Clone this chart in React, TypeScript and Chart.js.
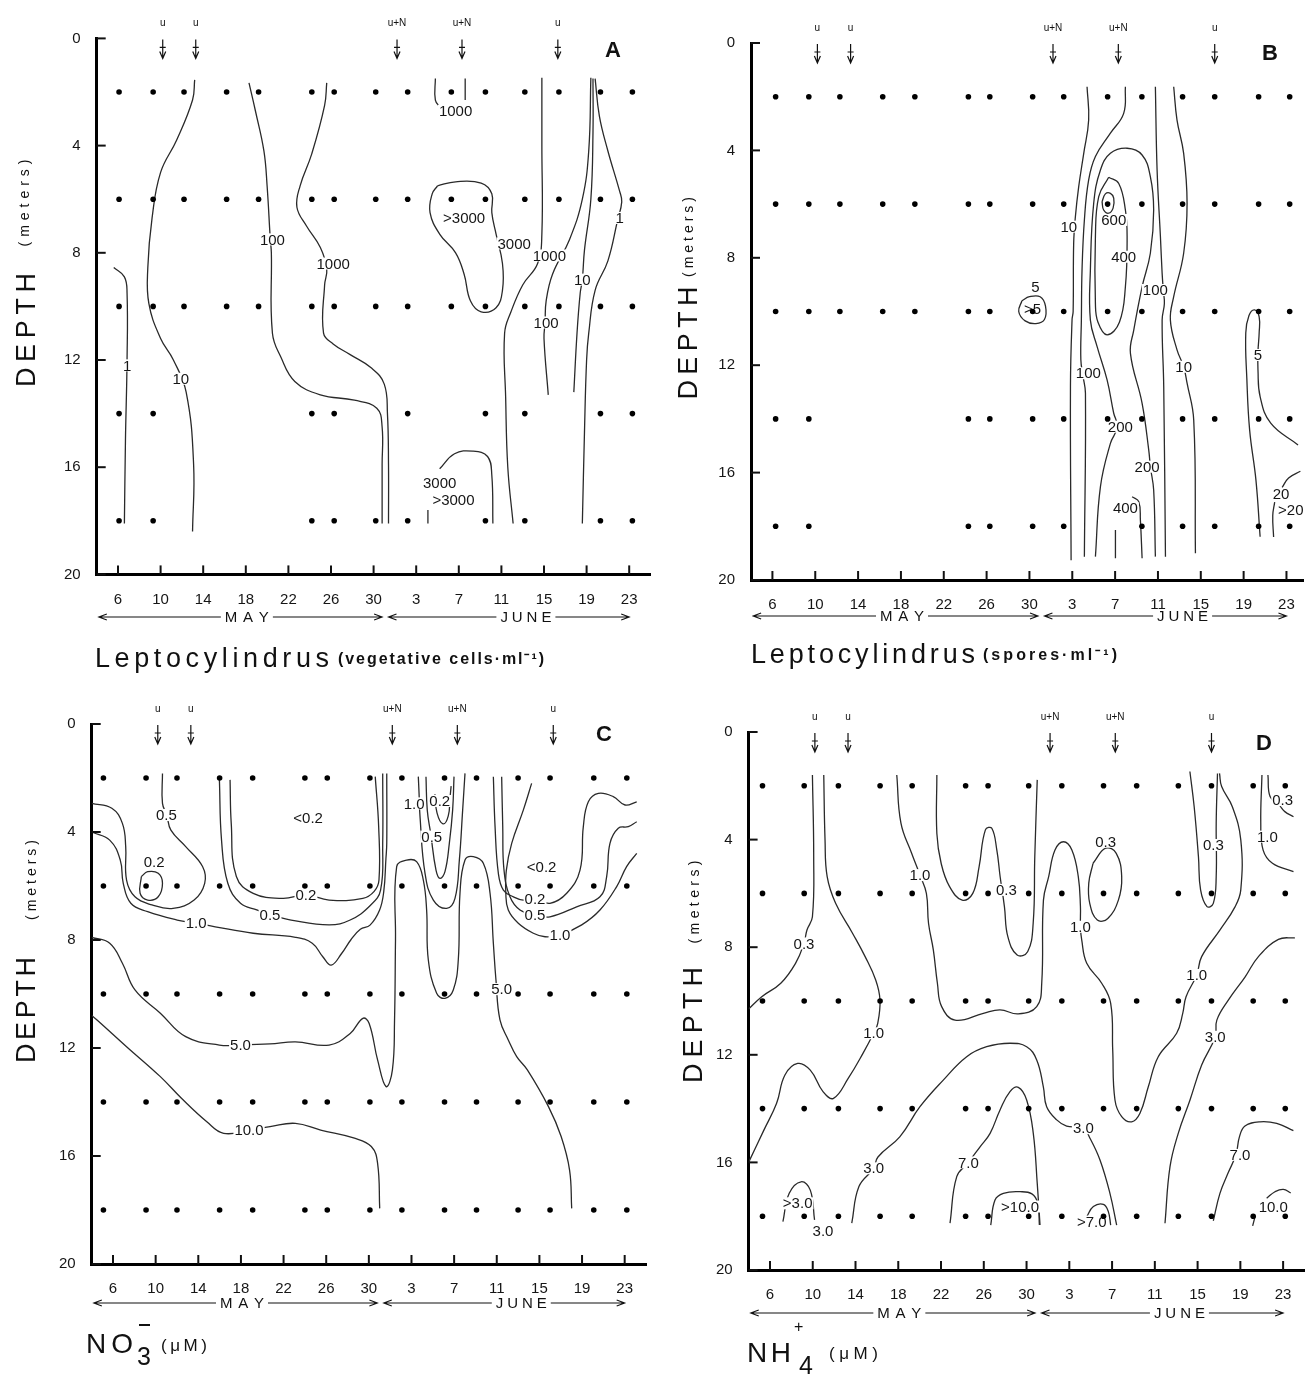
import React, { useEffect, useRef } from 'react';
import { Chart, registerables } from 'chart.js';
Chart.register(...registerables);

type Pt = [number, number];
type Lbl = [number, number, string];

// ---------- shared axis data ----------
const X_TICKS = [6, 10, 14, 18, 22, 26, 30, 34, 38, 42, 46, 50, 54];
const X_TICK_LABELS = ['6', '10', '14', '18', '22', '26', '30', '3', '7', '11', '15', '19', '23'];
const Y_TICKS = [0, 4, 8, 12, 16, 20];
const SAMPLE_DEPTHS = [2, 6, 10, 14, 18];
const EVENT_DAYS = [10.2, 13.3, 32.2, 38.3, 47.3];
const EVENT_LABELS = ['u', 'u', 'u+N', 'u+N', 'u'];
const MONTH_SPANS: [number, number, number, string][] = [
  [4.2, 30.8, 18.1, 'MAY'],
  [31.4, 54.0, 44.3, 'JUNE'],
];
const ALL15 = [0, 1, 2, 3, 4, 5, 6, 7, 8, 9, 10, 11, 12, 13, 14];

// ---------- Panel A: Leptocylindrus vegetative cells ----------
const A_DATES = [6.1, 9.3, 12.2, 16.2, 19.2, 24.2, 26.3, 30.2, 33.2, 37.3, 40.5, 44.2, 47.4, 51.3, 54.3];
const A_ROWS = [ALL15, ALL15, ALL15, [0, 1, 5, 6, 8, 10, 11, 13, 14], [0, 1, 5, 6, 7, 8, 10, 11, 13, 14]];
const A_CONTOURS: Pt[][] = [
  [[5.6, 8.55], [6.6, 8.9], [6.85, 9.5], [6.85, 12], [6.7, 15], [6.6, 18.1]],
  [[13.2, 1.55], [13.0, 2.3], [11.5, 3.8], [10.0, 5.0], [9.2, 6.7], [8.8, 8.55], [8.9, 9.9], [10.0, 11.2], [11.2, 12.0], [12.4, 13.2], [13.1, 15.9], [13.0, 18.4]],
  [[18.3, 1.66], [18.9, 2.7], [19.7, 4.2], [20.0, 5.5], [20.3, 7.5], [20.4, 8.0], [20.5, 11.0], [21.3, 11.9], [22.6, 12.8], [25.0, 13.3], [28.2, 13.5], [30.3, 13.8], [30.8, 14.5], [30.8, 15.9], [30.8, 18.1]],
  [[25.6, 1.66], [25.4, 2.5], [24.2, 4.3], [23.1, 5.5], [22.8, 6.3], [23.7, 7.0], [25.0, 7.8], [25.6, 8.6], [25.4, 9.2], [25.3, 11.0], [26.2, 11.4], [27.8, 11.8], [29.8, 12.3], [31.0, 12.9], [31.3, 14.0], [31.4, 15.9], [31.4, 18.1]],
  [[35.8, 1.5], [35.8, 2.3], [36.3, 2.6]],
  [[38.6, 1.5], [38.6, 2.3]],
  [[36.0, 5.5], [37.7, 5.35], [40.1, 5.4], [41.1, 5.8], [41.1, 6.5], [41.5, 7.3], [42.1, 8.4], [42.1, 9.4], [41.5, 10.05], [40.1, 10.2], [39.1, 9.8], [38.5, 8.8], [37.7, 8.0], [36.2, 7.3], [35.3, 6.5], [35.5, 5.8], [36.0, 5.5]],
  [[45.8, 1.47], [45.8, 4.0], [45.8, 7.3], [45.4, 8.4], [44.0, 9.2], [42.9, 10.2], [42.3, 11.0], [42.4, 13.4], [42.6, 16.0], [43.1, 18.1]],
  [[50.4, 1.47], [50.2, 4.2], [49.6, 6.0], [48.4, 7.5], [46.8, 8.8], [46.2, 9.8], [46.1, 10.6], [46.0, 11.2], [46.4, 13.3]],
  [[50.6, 1.5], [50.6, 3.5], [50.4, 6.0], [49.8, 7.9], [49.6, 9.0], [49.4, 9.5], [49.1, 11.0], [48.8, 13.2]],
  [[50.8, 1.5], [51.2, 2.9], [52.0, 4.2], [53.1, 5.7], [53.3, 6.1], [52.9, 6.8], [52.0, 8.3], [50.8, 9.4], [50.2, 11.0], [50.0, 12.0], [49.8, 14.7], [49.6, 18.1]],
  [[36.2, 16.06], [37.6, 15.5], [39.3, 15.4], [40.7, 15.6], [41.1, 16.3], [41.2, 18.1]],
  [[35.1, 17.6], [35.1, 18.1]],
];
const A_LABELS: Lbl[] = [
  [6.85, 12.2, '1'], [11.9, 12.7, '10'], [20.5, 7.5, '100'], [26.2, 8.4, '1000'],
  [37.7, 2.7, '1000'], [38.5, 6.7, '>3000'], [43.2, 7.65, '3000'], [46.5, 8.1, '1000'],
  [46.2, 10.6, '100'], [49.6, 9.0, '10'], [53.1, 6.7, '1'], [36.2, 16.6, '3000'], [37.5, 17.2, '>3000'],
];

// ---------- Panel B: Leptocylindrus spores ----------
const B_DATES = [6.3, 9.4, 12.3, 16.3, 19.3, 24.3, 26.3, 30.3, 33.2, 37.3, 40.5, 44.3, 47.3, 51.4, 54.3];
const B_ROWS = [ALL15, ALL15, ALL15, [0, 1, 5, 6, 7, 8, 9, 10, 11, 12, 13, 14], [0, 1, 5, 6, 7, 8, 10, 11, 12, 13, 14]];
const B_CONTOURS: Pt[][] = [
  [[29.3, 9.6], [30.0, 9.45], [31.0, 9.45], [31.5, 9.8], [31.4, 10.3], [30.6, 10.45], [29.6, 10.35], [29.0, 10.0], [29.3, 9.6]],
  [[35.38, 1.63], [35.53, 2.87], [35.07, 4.11], [34.6, 5.35], [34.29, 6.47], [34.13, 7.46], [34.08, 10.0], [33.98, 10.3], [33.83, 12.8], [33.89, 19.26]],
  [[38.96, 1.63], [38.8, 2.62], [37.56, 3.36], [36.16, 4.23], [35.53, 5.1], [35.13, 6.59], [34.91, 8.46], [34.85, 10.3], [34.8, 11.8], [35.0, 12.4], [35.23, 13.04], [35.13, 19.13]],
  [[36.16, 19.13], [36.63, 16.52], [37.56, 14.91], [38.2, 14.3], [37.87, 13.79], [37.25, 12.55], [36.32, 11.31], [35.69, 10.32], [35.69, 8.46], [36.0, 5.97], [36.63, 4.73], [37.56, 4.11], [39.12, 3.92], [40.52, 4.17], [41.29, 4.98], [41.6, 6.22], [41.29, 7.83], [40.52, 9.08], [39.74, 10.69], [39.43, 11.56], [40.52, 13.42], [41.14, 15.16], [41.3, 15.8], [41.6, 16.65], [41.76, 19.13]],
  [[37.4, 5.0], [38.34, 5.23], [38.96, 6.22], [39.12, 7.21], [38.96, 9.08], [38.4, 10.4], [37.25, 10.87], [36.4, 10.4], [36.16, 9.7], [36.16, 7.21], [36.47, 5.72], [37.4, 5.0]],
  [[36.78, 5.91], [37.09, 5.62], [37.56, 5.6], [37.87, 5.78], [37.81, 6.15], [37.4, 6.34], [36.93, 6.22], [36.78, 5.91]],
  [[39.59, 16.9], [40.21, 17.08], [40.36, 17.77], [40.52, 19.19]],
  [[38.03, 18.14], [38.03, 19.19]],
  [[41.76, 1.63], [41.92, 4.73], [42.23, 7.21], [42.39, 8.58], [42.5, 9.2], [42.6, 9.7], [42.39, 10.32], [42.54, 12.8], [42.7, 19.13]],
  [[43.47, 1.63], [43.78, 2.87], [44.4, 4.11], [44.72, 5.97], [44.4, 7.83], [43.47, 9.45], [43.16, 10.32], [43.78, 11.43], [44.4, 12.06], [44.72, 12.67], [45.34, 14.04], [45.5, 19.0]],
  [[51.54, 18.39], [51.15, 16.28], [50.56, 14.41], [50.3, 12.5], [50.2, 10.8], [50.5, 10.15], [51.02, 9.94], [51.45, 10.2], [51.45, 10.8], [51.34, 11.5], [51.34, 12.18], [51.54, 13.17], [52.53, 14.16], [55.08, 14.97]],
  [[53.6, 16.55], [54.2, 16.2], [55.3, 15.95]],
  [[52.9, 17.1], [52.72, 17.6], [52.8, 18.4]],
];
const B_LABELS: Lbl[] = [
  [30.56, 9.1, '5'], [30.3, 9.9, '>5'], [33.67, 6.84, '10'], [35.5, 12.3, '100'], [37.87, 6.59, '600'],
  [38.8, 7.96, '400'], [41.76, 9.2, '100'], [38.49, 14.29, '200'], [40.99, 15.78, '200'],
  [38.96, 17.33, '400'], [44.4, 12.06, '10'], [51.34, 11.62, '5'], [53.5, 16.8, '20'], [54.4, 17.4, '>20'],
];

// ---------- Panel C: nitrate ----------
const C_DATES = [5.1, 9.1, 12.0, 16.0, 19.1, 24.0, 26.1, 30.1, 33.1, 37.1, 40.1, 44.0, 47.0, 51.1, 54.2];
const C_ROWS = [ALL15, ALL15, ALL15, ALL15, ALL15];
const C_CONTOURS: Pt[][] = [
  [[10.64, 1.83], [10.64, 2.94], [11.04, 3.37], [11.43, 3.93], [12.82, 4.54], [14.4, 5.28], [14.6, 5.9], [13.61, 6.52], [11.63, 6.83], [9.65, 6.7], [8.06, 6.4], [7.27, 5.78], [7.19, 4.54], [6.88, 3.68], [5.89, 3.12], [4.0, 2.94]],
  [[8.66, 5.65], [9.25, 5.47], [10.24, 5.53], [10.64, 5.9], [10.24, 6.4], [9.25, 6.52], [8.54, 6.27], [8.66, 5.65]],
  [[4.0, 4.0], [5.69, 4.3], [6.68, 5.04], [6.96, 5.9], [7.67, 6.64], [9.25, 6.95], [12.02, 7.26], [13.8, 7.38], [15.59, 7.51], [19.15, 7.75], [23.11, 7.9], [24.69, 8.12], [25.68, 8.62], [26.47, 8.93], [27.46, 8.49], [28.3, 8.0], [29.2, 7.6], [30.11, 7.45], [31.0, 6.9], [31.4, 6.2], [31.6, 5.0], [31.68, 4.42], [31.68, 1.83]],
  [[15.98, 2.07], [16.18, 4.3], [16.77, 5.9], [17.96, 6.64], [19.55, 6.89], [20.73, 7.07], [22.71, 7.26], [26.27, 7.44], [28.25, 7.26], [30.11, 6.73], [31.1, 6.15], [31.3, 4.42], [31.3, 1.83]],
  [[16.98, 2.07], [17.09, 3.68], [17.57, 5.65], [19.15, 6.27], [21.92, 6.46], [24.1, 6.33], [26.27, 6.52], [29.44, 6.46], [30.5, 6.2], [30.95, 5.78], [30.92, 3.8], [30.6, 1.95]],
  [[4.0, 7.9], [5.69, 8.12], [6.88, 8.86], [8.06, 9.85], [10.44, 10.71], [12.82, 11.58], [15.98, 11.89], [17.96, 11.89], [20.73, 11.85], [23.11, 11.77], [26.27, 11.89], [28.25, 11.46], [29.44, 10.9], [30.03, 11.09], [30.82, 12.44], [31.62, 13.43], [32.21, 12.81], [32.41, 10.96], [32.5, 8.0], [32.61, 5.28], [33.54, 5.04], [34.48, 5.1], [35.11, 5.78], [35.42, 6.89], [35.58, 8.74], [36.36, 9.97], [37.14, 10.16], [37.92, 9.85], [38.39, 8.74], [38.55, 6.27], [39.02, 5.04], [39.8, 4.91], [40.74, 5.16], [41.37, 6.27], [41.68, 8.12], [41.93, 9.51], [42.3, 10.96], [43.08, 11.7], [43.87, 12.32], [44.87, 12.81], [46.85, 14.17], [48.04, 15.28], [48.83, 16.52], [49.03, 17.94]],
  [[4.0, 10.8], [4.5, 10.96], [7.27, 11.95], [10.44, 13.06], [12.42, 13.86], [14.8, 14.73], [16.38, 15.16], [18.76, 15.04], [20.73, 14.91], [23.11, 14.79], [25.48, 15.04], [28.65, 15.34], [30.23, 15.65], [30.82, 16.27], [31.02, 17.94]],
  [[34.64, 1.95], [34.71, 2.57], [34.8, 3.43], [35.27, 5.53], [36.05, 6.52], [37.3, 6.83], [38.08, 6.46], [38.49, 5.04], [38.8, 3.19], [39.02, 1.83]],
  [[35.36, 1.95], [35.48, 3.19], [35.8, 4.05], [36.3, 5.41], [36.68, 5.72], [37.14, 5.47], [37.55, 4.42], [37.86, 3.19], [37.99, 1.95]],
  [[36.2, 2.6], [36.4, 3.3], [36.95, 3.7], [37.45, 3.4], [37.62, 2.7], [37.72, 2.3]],
  [[41.68, 1.95], [41.84, 3.8], [42.15, 5.53], [42.62, 6.15], [43.56, 6.4], [44.49, 6.52], [45.59, 6.46], [46.99, 6.64], [48.56, 6.27], [49.81, 5.41], [50.12, 3.8], [50.59, 2.88], [51.53, 2.57], [52.93, 2.69], [54.03, 3.0], [55.13, 2.88]],
  [[42.46, 1.95], [42.56, 3.8], [42.68, 5.41], [43.24, 6.4], [44.18, 6.89], [45.59, 7.07], [46.99, 7.14], [49.49, 6.77], [51.68, 6.4], [52.31, 5.65], [52.62, 4.42], [53.4, 3.86], [54.34, 3.8], [55.13, 3.62]],
  [[45.27, 2.2], [44.49, 3.19], [43.4, 4.42], [42.9, 5.41], [42.85, 6.27], [43.08, 6.89], [44.02, 7.38], [45.43, 7.75], [46.53, 7.88], [47.93, 7.81], [49.97, 7.44], [51.68, 6.89], [53.25, 6.02], [54.18, 5.28], [55.13, 4.79]],
];
const C_LABELS: Lbl[] = [
  [11.0, 3.37, '0.5'], [9.85, 5.12, '0.2'], [13.8, 7.38, '1.0'], [20.73, 7.07, '0.5'], [24.1, 6.33, '0.2'],
  [24.3, 3.49, '<0.2'], [17.96, 11.89, '5.0'], [18.76, 15.04, '10.0'], [42.46, 9.82, '5.0'],
  [34.25, 2.94, '1.0'], [36.65, 2.85, '0.2'], [35.9, 4.17, '0.5'],
  [46.21, 5.28, '<0.2'], [45.59, 6.46, '0.2'], [45.59, 7.07, '0.5'], [47.93, 7.81, '1.0'],
];

// ---------- Panel D: ammonium ----------
const D_DATES = [5.3, 9.2, 12.4, 16.3, 19.3, 24.3, 26.4, 30.2, 33.3, 37.2, 40.3, 44.2, 47.3, 51.2, 54.2];
const D_ROWS = [ALL15, ALL15, ALL15, ALL15, ALL15];
const D_CONTOURS: Pt[][] = [
  [[9.97, 1.6], [10.09, 4.64], [9.97, 6.87], [9.46, 7.36], [9.18, 7.86], [8.39, 8.6], [7.01, 9.34], [5.23, 9.84], [4.0, 10.3]],
  [[11.03, 1.6], [11.15, 4.01], [11.35, 5.38], [12.14, 6.37], [13.72, 7.48], [14.9, 8.35], [15.89, 9.22], [16.29, 9.96], [16.08, 10.83], [15.69, 11.2], [14.71, 11.94], [13.33, 12.87], [11.94, 13.62], [10.96, 13.37], [9.77, 12.57], [8.59, 12.32], [7.4, 12.75], [6.62, 13.8], [5.43, 14.8], [4.0, 16.0]],
  [[17.86, 1.6], [18.25, 3.39], [19.25, 4.51], [20.03, 5.32], [20.63, 6.0], [20.83, 7.11], [21.28, 8.1], [21.66, 9.34], [22.06, 10.21], [23.31, 10.71], [25.96, 10.46], [27.52, 10.33], [29.23, 10.48], [30.95, 10.21], [31.42, 9.34], [31.58, 6.25], [32.07, 5.38], [32.66, 4.39], [33.46, 4.08], [34.24, 4.39], [34.84, 5.38], [35.04, 6.49], [35.04, 7.24], [35.16, 7.73], [35.63, 8.6], [37.03, 9.34], [37.87, 10.09], [38.06, 11.82], [38.27, 13.68], [38.9, 14.3], [39.83, 14.49], [40.61, 14.17], [41.39, 13.19], [42.32, 12.07], [44.04, 11.2], [44.61, 10.46], [44.92, 9.84], [45.92, 9.03], [46.38, 8.35], [48.1, 7.36], [49.5, 6.5], [50.04, 5.87], [50.04, 4.01], [49.25, 2.78], [48.25, 2.03], [48.05, 1.54]],
  [[21.61, 1.6], [21.61, 3.77], [22.01, 4.88], [22.8, 5.75], [23.98, 6.25], [24.97, 6.0], [25.56, 5.01], [26.15, 3.64], [26.75, 3.58], [27.22, 4.39], [27.53, 5.38], [27.93, 6.49], [28.25, 7.61], [29.12, 8.29], [30.1, 8.17], [30.62, 7.11], [30.77, 4.64], [31.0, 1.78]],
  [[36.22, 4.88], [37.4, 4.32], [38.39, 4.51], [38.9, 5.38], [38.59, 6.25], [37.6, 6.93], [36.62, 6.99], [35.91, 6.37], [35.82, 5.62], [36.22, 4.88]],
  [[45.28, 1.47], [45.68, 2.78], [46.08, 4.64], [46.28, 5.87], [46.88, 6.49], [47.47, 6.37], [47.74, 5.38], [47.74, 3.39], [47.86, 1.54]],
  [[52.02, 1.6], [51.91, 3.39], [52.13, 4.39], [53.0, 4.88], [54.97, 5.19]],
  [[52.58, 1.6], [52.78, 2.4], [53.6, 2.7], [54.16, 2.96], [54.97, 3.15]],
  [[55.1, 7.65], [53.56, 7.71], [51.69, 8.35], [50.45, 9.1], [48.89, 9.96], [47.8, 10.71], [47.65, 11.33], [46.38, 12.38], [45.29, 13.68], [44.19, 14.92], [43.42, 16.16], [42.95, 18.26]],
  [[13.65, 18.26], [14.32, 16.9], [15.69, 16.22], [16.1, 15.8], [18.16, 15.04], [20.03, 13.93], [22.21, 12.94], [24.4, 12.07], [26.27, 11.7], [28.45, 11.57], [30.01, 11.7], [30.95, 12.19], [31.57, 13.19], [31.88, 13.93], [32.82, 14.42], [33.75, 14.65], [35.31, 14.73], [35.93, 15.1], [36.87, 15.91], [37.8, 17.15], [38.43, 18.33]],
  [[7.21, 18.2], [7.8, 17.15], [8.91, 16.72], [9.77, 17.03], [10.17, 18.14]],
  [[22.84, 18.26], [23.47, 16.53], [24.56, 16.0], [25.65, 15.42], [26.59, 14.92], [27.52, 14.05], [28.45, 13.37], [29.23, 13.21], [30.01, 13.68], [30.63, 14.92], [31.0, 16.78], [31.26, 18.33]],
  [[26.65, 18.33], [27.05, 17.4], [27.83, 17.15], [29.39, 17.09], [30.5, 17.17], [31.05, 17.52], [31.2, 18.33]],
  [[35.63, 18.02], [36.25, 17.64], [37.19, 17.56], [37.65, 17.83], [37.87, 18.33]],
  [[47.47, 18.17], [48.09, 17.15], [48.87, 16.38], [49.6, 15.7], [49.9, 15.07], [50.43, 14.65], [51.84, 14.49], [53.4, 14.55], [54.96, 14.82]],
  [[52.46, 17.33], [53.24, 17.09], [54.02, 17.0], [54.71, 17.13]],
  [[51.37, 18.02], [51.15, 18.36]],
];
const D_LABELS: Lbl[] = [
  [9.18, 7.86, '0.3'], [15.69, 11.2, '1.0'], [20.03, 5.32, '1.0'], [28.12, 5.87, '0.3'],
  [37.4, 4.08, '0.3'], [35.04, 7.24, '1.0'], [47.47, 4.2, '0.3'], [52.53, 3.89, '1.0'], [53.96, 2.53, '0.3'],
  [45.92, 9.03, '1.0'], [47.65, 11.33, '3.0'], [15.69, 16.22, '3.0'], [35.31, 14.73, '3.0'],
  [8.59, 17.52, '>3.0'], [10.96, 18.54, '3.0'], [24.56, 16.0, '7.0'], [29.39, 17.64, '>10.0'],
  [36.1, 18.2, '>7.0'], [49.97, 15.72, '7.0'], [53.08, 17.64, '10.0'],
];

// ---------- layout (positions only) ----------
interface Layout {
  x: number; y: number; w: number; h: number;
  left: number; top: number; right: number; bottom: number; xMax: number;
  letterPos: [number, number]; monthY: number;
  meters: [number, number, number]; depth: [number, number, number];
}
interface PanelDef {
  letter: string; dates: number[]; rows: number[][]; contours: Pt[][]; labels: Lbl[];
  layout: Layout; drawTitle: (ctx: CanvasRenderingContext2D) => void;
}

const FONT = '"Liberation Sans", Arial, sans-serif';

function spaced(ctx: CanvasRenderingContext2D, text: string, x: number, y: number, width: number, center = false) {
  const chars = Array.from(text);
  const widths = chars.map((c) => ctx.measureText(c).width);
  const natural = widths.reduce((a, b) => a + b, 0);
  const gap = chars.length > 1 ? (width - natural) / (chars.length - 1) : 0;
  let cx = center ? x - width / 2 : x;
  const prevAlign = ctx.textAlign;
  ctx.textAlign = 'left';
  chars.forEach((c, i) => { ctx.fillText(c, cx, y); cx += widths[i] + gap; });
  ctx.textAlign = prevAlign;
}

function leptoTitle(x0: number, base: number, w1: number, sub: string, x1: number, base2: number, w2: number) {
  return (ctx: CanvasRenderingContext2D) => {
    ctx.fillStyle = '#111';
    ctx.textBaseline = 'alphabetic';
    ctx.font = `27px ${FONT}`;
    spaced(ctx, 'Leptocylindrus', x0, base, w1);
    ctx.font = `bold 16px ${FONT}`;
    spaced(ctx, sub, x1, base2, w2);
  };
}

const PANELS: PanelDef[] = [
  {
    letter: 'A', dates: A_DATES, rows: A_ROWS, contours: A_CONTOURS, labels: A_LABELS,
    layout: { x: 0, y: 0, w: 655, h: 687, left: 96.7, top: 38.4, right: 650.5, bottom: 574.4, xMax: 56, letterPos: [613, 51], monthY: 617, meters: [25, 203, 87], depth: [28, 330, 114] },
    drawTitle: leptoTitle(95, 667, 234, '(vegetative cells·ml⁻¹)', 338, 664, 206),
  },
  {
    letter: 'B', dates: B_DATES, rows: B_ROWS, contours: B_CONTOURS, labels: B_LABELS,
    layout: { x: 655, y: 0, w: 655, h: 687, left: 96, top: 43, right: 648.6, bottom: 580, xMax: 55.6, letterPos: [615, 54], monthY: 616, meters: [34, 237, 80], depth: [35, 343, 113] },
    drawTitle: leptoTitle(96, 663, 224, '(spores·ml⁻¹)', 328, 660, 134),
  },
  {
    letter: 'C', dates: C_DATES, rows: C_ROWS, contours: C_CONTOURS, labels: C_LABELS,
    layout: { x: 0, y: 687, w: 655, h: 688, left: 91.7, top: 37, right: 646, bottom: 577, xMax: 56, letterPos: [604, 48], monthY: 616, meters: [32, 193, 80], depth: [28, 323, 106] },
    drawTitle: (ctx) => {
      ctx.fillStyle = '#111'; ctx.strokeStyle = '#111'; ctx.textBaseline = 'alphabetic'; ctx.textAlign = 'left';
      ctx.font = `28px ${FONT}`; spaced(ctx, 'NO', 86, 666, 47);
      ctx.font = `25px ${FONT}`; ctx.fillText('3', 137, 678);
      ctx.lineWidth = 2; ctx.beginPath(); ctx.moveTo(139, 638); ctx.lineTo(150, 638); ctx.stroke();
      ctx.font = `17px ${FONT}`; spaced(ctx, '(μM)', 161, 664, 46);
    },
  },
  {
    letter: 'D', dates: D_DATES, rows: D_ROWS, contours: D_CONTOURS, labels: D_LABELS,
    layout: { x: 655, y: 687, w: 655, h: 688, left: 93.6, top: 45, right: 649.5, bottom: 583, xMax: 56, letterPos: [609, 57], monthY: 626, meters: [40, 215, 83], depth: [40, 338, 116] },
    drawTitle: (ctx) => {
      ctx.fillStyle = '#111'; ctx.textBaseline = 'alphabetic'; ctx.textAlign = 'left';
      ctx.font = `28px ${FONT}`; spaced(ctx, 'NH', 92, 675, 44);
      ctx.font = `16px ${FONT}`; ctx.fillText('+', 139, 645);
      ctx.font = `25px ${FONT}`; ctx.fillText('4', 144, 687);
      ctx.font = `17px ${FONT}`; spaced(ctx, '(μM)', 174, 672, 49);
    },
  },
];

function makePlugin(p: PanelDef) {
  return {
    id: 'deco' + p.letter,
    beforeDatasetDraw(chart: any, args: any) {
      if (args.index !== 0) return;
      const { ctx } = chart;
      const xs = chart.scales.x, ys = chart.scales.y;
      ctx.save();
      ctx.font = `15px ${FONT}`;
      ctx.textAlign = 'center';
      ctx.textBaseline = 'middle';
      for (const [dx, dy, t] of p.labels) {
        const px = xs.getPixelForValue(dx), py = ys.getPixelForValue(dy);
        const w = ctx.measureText(t).width;
        ctx.fillStyle = '#fff';
        ctx.fillRect(px - w / 2 - 1, py - 6, w + 2, 12);
        ctx.fillStyle = '#151515';
        ctx.fillText(t, px, py + 1);
      }
      ctx.restore();
    },
    afterDraw(chart: any) {
      const { ctx, chartArea } = chart;
      const xs = chart.scales.x, ys = chart.scales.y;
      const L = p.layout;
      ctx.save();
      ctx.strokeStyle = '#111';
      ctx.fillStyle = '#111';
      // inward tick marks
      ctx.lineWidth = 2;
      for (const v of Y_TICKS) {
        const py = ys.getPixelForValue(v);
        ctx.beginPath(); ctx.moveTo(chartArea.left, py); ctx.lineTo(chartArea.left + 9, py); ctx.stroke();
      }
      for (const v of X_TICKS) {
        const px = xs.getPixelForValue(v);
        ctx.beginPath(); ctx.moveTo(px, chartArea.bottom); ctx.lineTo(px, chartArea.bottom - 9); ctx.stroke();
      }
      // addition events (u, u+N) arrows
      ctx.lineWidth = 1.2;
      ctx.font = `10px ${FONT}`;
      ctx.textAlign = 'center';
      ctx.textBaseline = 'middle';
      EVENT_DAYS.forEach((d, i) => {
        const px = xs.getPixelForValue(d);
        const t = chartArea.top;
        ctx.fillText(EVENT_LABELS[i], px, t - 15);
        ctx.beginPath();
        ctx.moveTo(px, t + 1); ctx.lineTo(px, t + 20);
        ctx.moveTo(px - 3, t + 13); ctx.lineTo(px, t + 20); ctx.lineTo(px + 3, t + 13);
        ctx.moveTo(px - 3, t + 9); ctx.lineTo(px + 3, t + 9);
        ctx.stroke();
      });
      // panel letter
      ctx.font = `bold 22px ${FONT}`;
      ctx.fillText(p.letter, L.letterPos[0], L.letterPos[1]);
      // month arrows
      ctx.font = `15px ${FONT}`;
      ctx.lineWidth = 1.1;
      for (const [a, b, c, t] of MONTH_SPANS) {
        const xa = xs.getPixelForValue(a), xb = xs.getPixelForValue(b), xc = xs.getPixelForValue(c);
        const tw = t === 'MAY' ? 44 : 51;
        const y = L.monthY;
        ctx.beginPath();
        ctx.moveTo(xa, y); ctx.lineTo(xc - tw / 2 - 4, y);
        ctx.moveTo(xc + tw / 2 + 4, y); ctx.lineTo(xb, y);
        ctx.moveTo(xa + 8, y - 3); ctx.lineTo(xa, y); ctx.lineTo(xa + 8, y + 3);
        ctx.moveTo(xb - 8, y - 3); ctx.lineTo(xb, y); ctx.lineTo(xb - 8, y + 3);
        ctx.stroke();
        spaced(ctx, t, xc, y + 1, tw, true);
      }
      // y-axis titles
      ctx.save();
      ctx.translate(L.meters[0], L.meters[1]);
      ctx.rotate(-Math.PI / 2);
      ctx.font = `14px ${FONT}`;
      spaced(ctx, '(meters)', 0, 0, L.meters[2], true);
      ctx.restore();
      ctx.save();
      ctx.translate(L.depth[0], L.depth[1]);
      ctx.rotate(-Math.PI / 2);
      ctx.font = `27px ${FONT}`;
      spaced(ctx, 'DEPTH', 0, 0, L.depth[2], true);
      ctx.restore();
      // bottom title
      p.drawTitle(ctx);
      ctx.restore();
    },
  };
}

function PanelChart({ p }: { p: PanelDef }) {
  const ref = useRef<HTMLCanvasElement>(null);
  useEffect(() => {
    const L = p.layout;
    const dots: { x: number; y: number }[] = [];
    p.rows.forEach((idxs, r) => idxs.forEach((i) => dots.push({ x: p.dates[i], y: SAMPLE_DEPTHS[r] })));
    const datasets: any[] = [
      { data: dots, pointRadius: 2.8, pointBackgroundColor: '#000', pointBorderWidth: 0, showLine: false },
      ...p.contours.map((c) => ({
        data: c.map(([x, y]) => ({ x, y })),
        showLine: true, pointRadius: 0, borderColor: '#2a2a2a', borderWidth: 1.3, tension: 0.42, fill: false,
      })),
    ];
    const chart = new Chart(ref.current as HTMLCanvasElement, {
      type: 'scatter',
      data: { datasets },
      options: {
        animation: false,
        responsive: false,
        maintainAspectRatio: false,
        events: [],
        layout: { padding: { top: L.top, right: L.w - L.right, left: 0, bottom: 0 } },
        plugins: { legend: { display: false }, tooltip: { enabled: false } },
        scales: {
          x: {
            type: 'linear', position: 'bottom', min: 4, max: L.xMax,
            grid: { display: false },
            border: { display: true, color: '#000', width: 3 },
            ticks: {
              padding: 8, color: '#151515', font: { family: FONT, size: 15 }, maxRotation: 0, autoSkip: false,
              callback: (_v: any, i: number) => X_TICK_LABELS[i],
            },
            afterBuildTicks: (axis: any) => { axis.ticks = X_TICKS.map((v) => ({ value: v })); },
            afterFit: (s: any) => { s.height = L.h - L.bottom; },
          },
          y: {
            type: 'linear', position: 'left', reverse: true, min: 0, max: 20,
            grid: { display: false },
            border: { display: true, color: '#000', width: 3 },
            ticks: { padding: 8, color: '#151515', font: { family: FONT, size: 15 }, callback: (v: any) => String(v) },
            afterBuildTicks: (axis: any) => { axis.ticks = Y_TICKS.map((v) => ({ value: v })); },
            afterFit: (s: any) => { s.width = L.left; },
          },
        },
      } as any,
      plugins: [makePlugin(p)],
    });
    return () => chart.destroy();
  }, [p]);
  const L = p.layout;
  return (
    <canvas
      ref={ref}
      width={L.w}
      height={L.h}
      style={{ position: 'absolute', left: L.x, top: L.y, width: L.w, height: L.h }}
    />
  );
}

export default function App() {
  return (
    <div style={{ position: 'absolute', left: 0, top: 0, width: 1310, height: 1375, background: '#fff', overflow: 'hidden' }}>
      {PANELS.map((p) => <PanelChart key={p.letter} p={p} />)}
    </div>
  );
}
